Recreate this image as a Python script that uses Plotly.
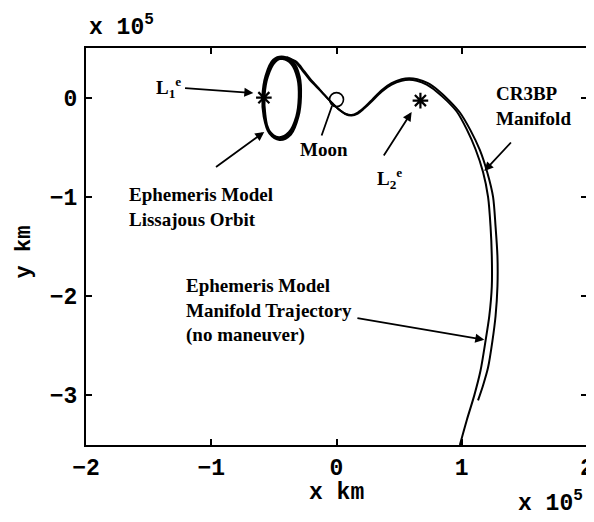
import plotly.graph_objects as go

# ---------------- data (units of 1e5 km) ----------------
lissajous_x = [-0.42, -0.35, -0.30, -0.29, -0.31, -0.37, -0.46, -0.53, -0.575, -0.585, -0.56, -0.50, -0.43,
               -0.36, -0.31, -0.30, -0.32, -0.38, -0.46, -0.54, -0.57, -0.575, -0.55, -0.49, -0.42,
               -0.345, -0.295, -0.285, -0.305, -0.365, -0.455, -0.535, -0.58, -0.59, -0.565, -0.505, -0.42]
lissajous_y = [0.41, 0.35, 0.20, 0.02, -0.18, -0.36, -0.42, -0.35, -0.18, 0.02, 0.22, 0.37, 0.39,
               0.34, 0.19, 0.00, -0.19, -0.35, -0.40, -0.33, -0.17, 0.03, 0.21, 0.36, 0.40,
               0.355, 0.21, 0.01, -0.19, -0.37, -0.425, -0.36, -0.19, 0.01, 0.22, 0.38, 0.41]

ephem_x = [-0.42, -0.33, -0.27, -0.22, -0.16, -0.10, -0.04, 0.02, 0.07, 0.12, 0.17, 0.22, 0.28, 0.36,
           0.44, 0.52, 0.58, 0.64, 0.72, 0.80, 0.88, 0.96, 1.04, 1.11, 1.17, 1.21, 1.23, 1.24, 1.24,
           1.22, 1.19, 1.15, 1.10, 1.04, 0.985]
ephem_y = [0.41, 0.36, 0.27, 0.19, 0.11, 0.03, -0.05, -0.12, -0.165, -0.18, -0.16, -0.11, -0.04, 0.06,
           0.13, 0.17, 0.18, 0.17, 0.13, 0.06, -0.03, -0.14, -0.32, -0.52, -0.75, -1.0, -1.3, -1.6, -1.9,
           -2.2, -2.45, -2.75, -3.0, -3.25, -3.5]

cr3bp_x = [-0.40, -0.32, -0.26, -0.21, -0.15, -0.09, -0.03, 0.025, 0.075, 0.12, 0.17, 0.225, 0.285,
           0.36, 0.44, 0.52, 0.58, 0.645, 0.73, 0.815, 0.90, 0.985, 1.07, 1.145, 1.205, 1.25, 1.27,
           1.285, 1.285, 1.27, 1.245, 1.21, 1.17, 1.13]
cr3bp_y = [0.41, 0.36, 0.27, 0.19, 0.105, 0.02, -0.06, -0.125, -0.165, -0.175, -0.15, -0.095, -0.02,
           0.075, 0.145, 0.185, 0.195, 0.185, 0.145, 0.07, -0.03, -0.15, -0.33, -0.53, -0.76, -1.0, -1.3,
           -1.6, -1.9, -2.2, -2.45, -2.72, -2.9, -3.05]

libration_x = [-0.58, 0.67]
libration_y = [0.0, -0.03]
moon_x = [0.0]
moon_y = [-0.02]

x_ticks = [-2, -1, 0, 1, 2]
y_ticks = [-3, -2, -1, 0]

# ---------------- figure ----------------
mono = "Liberation Mono"
serif = "Liberation Serif"

fig = go.Figure()
fig.add_trace(go.Scatter(x=lissajous_x, y=lissajous_y, mode="lines",
                         line=dict(color="black", width=2.4, shape="spline", smoothing=1.0)))
fig.add_trace(go.Scatter(x=ephem_x, y=ephem_y, mode="lines",
                         line=dict(color="black", width=2.0, shape="spline", smoothing=0.8)))
fig.add_trace(go.Scatter(x=cr3bp_x, y=cr3bp_y, mode="lines",
                         line=dict(color="black", width=2.0, shape="spline", smoothing=0.8)))
fig.add_trace(go.Scatter(x=libration_x, y=libration_y, mode="markers",
                         marker=dict(symbol="asterisk-open", size=13, color="black",
                                     line=dict(color="black", width=2.2))))
fig.add_trace(go.Scatter(x=moon_x, y=moon_y, mode="markers",
                         marker=dict(symbol="circle-open", size=14, color="black",
                                     line=dict(color="black", width=1.6))))

tf = dict(family=mono, size=23, color="black", weight="bold")
common = dict(ticks="inside", ticklen=6, tickwidth=1.6, tickcolor="black",
              showline=True, linecolor="black", linewidth=2.2, mirror="ticks",
              showgrid=False, zeroline=False, tickfont=tf, automargin=False)
fig.update_xaxes(range=[-2, 2], tickvals=x_ticks, ticklabelstandoff=0,
                 ticktext=[("\u2212" if v < 0 else "") + str(abs(v)) for v in x_ticks], **common)
fig.update_yaxes(range=[-3.5, 0.5], tickvals=y_ticks, ticklabelstandoff=2,
                 ticktext=[("\u2212" if v < 0 else "") + str(abs(v)) for v in y_ticks], **common)

ann = []
sf = dict(family=serif, size=19, color="black")

def arrow(hx, hy, tx, ty, head=2):
    ann.append(dict(x=hx, y=hy, ax=tx, ay=ty, xref="x", yref="y", axref="x", ayref="y",
                    text="", showarrow=True, arrowhead=head, arrowsize=1, arrowwidth=1.8,
                    arrowcolor="black"))

def label(x, y, text, xanchor="center", align="center"):
    ann.append(dict(x=x, y=y, xref="x", yref="y", text=text, showarrow=False,
                    xanchor=xanchor, yanchor="middle", align=align, font=sf))

label(-1.34, 0.107, "<b>L<sub>1</sub><sup>e</sup></b>")
arrow(-0.664, 0.047, -1.221, 0.097)
label(-1.674, -1.097, "<b>Ephemeris Model<br>Lissajous Orbit</b>", xanchor="left", align="left")
arrow(-0.577, -0.346, -0.974, -0.709)
label(-0.099, -0.518, "<b>Moon</b>")
arrow(-0.036, -0.084, -0.123, -0.397, head=0)
label(0.425, -0.81, "<b>L<sub>2</sub><sup>e</sup></b>")
arrow(0.60, -0.145, 0.370, -0.598)
label(1.26, -0.089, "<b>CR3BP<br>Manifold</b>", xanchor="left", align="left")
arrow(1.18, -0.74, 1.404, -0.437)
label(-1.221, -2.14, "<b>Ephemeris Model<br>Manifold Trajectory<br>(no maneuver)</b>",
      xanchor="left", align="left")
arrow(1.18, -2.44, 0.155, -2.22)

mf = dict(family=mono, size=23, color="black", weight="bold")
ann.append(dict(x=0.5, y=-0.122, xref="paper", yref="paper", text="x km", showarrow=False,
                font=mf, xanchor="center", yanchor="middle"))
ann.append(dict(x=-0.123, y=0.486, xref="paper", yref="paper", text="y km", showarrow=False,
                font=dict(family=mono, size=22, color="black", weight="bold"),
                textangle=-90, xanchor="center", yanchor="middle"))
ann.append(dict(x=0.002, y=1.012, xref="paper", yref="paper", text="x 10<sup>5</sup>", showarrow=False,
                font=mf, xanchor="left", yanchor="bottom"))
ann.append(dict(x=0.997, y=-0.1, xref="paper", yref="paper", text="x 10<sup>5</sup>", showarrow=False,
                font=mf, xanchor="right", yanchor="top"))

# the page body has an 8 px margin, so margins are shifted to place the plot area
fig.update_layout(width=594, height=522, margin=dict(l=78, r=15, t=40, b=85, autoexpand=False),
                  paper_bgcolor="white", plot_bgcolor="white", showlegend=False,
                  annotations=ann)
fig.write_html("out.html")
